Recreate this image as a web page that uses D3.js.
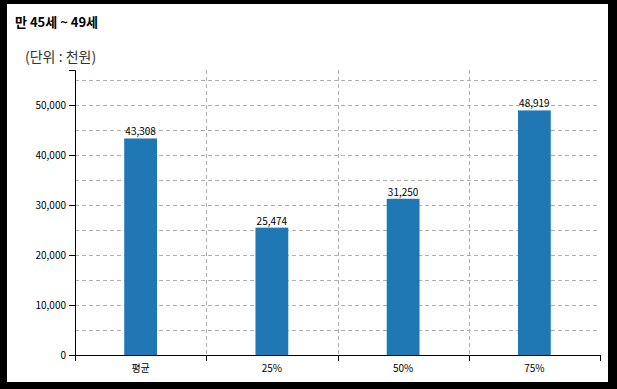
<!DOCTYPE html>
<html>
<head>
<meta charset="utf-8">
<script src="https://cdn.jsdelivr.net/npm/d3@7"></script>
<style>
body { margin: 0; background: #000; }
#box { position: absolute; left: 7px; top: 4px; width: 601px; height: 378px; background: #fff; }
svg { display: block; }
</style>
</head>
<body>
<div id="box"></div>
<script>
var title = "만 45세 ~ 49세";
var unitText = "(단위 : 천원)";
var categories = ["평균", "25%", "50%", "75%"];
var values = [43308, 25474, 31250, 48919];
var yTicks = [0, 10000, 20000, 30000, 40000, 50000];
var gridValues = [5000, 10000, 15000, 20000, 25000, 30000, 35000, 40000, 45000, 50000, 55000];

var svg = d3.select("#box").append("svg").attr("width", 601).attr("height", 378);
var g = svg.append("g").attr("transform", "translate(-7,-4)");

var font = "'Noto Sans CJK KR', 'Noto Sans', sans-serif";

g.append("text").attr("x", 15).attr("y", 27)
  .attr("font-family", font).attr("font-size", 13).attr("font-weight", "bold")
  .attr("fill", "#000").text(title);
g.append("text").attr("x", 25).attr("y", 62)
  .attr("font-family", font).attr("font-size", 14)
  .attr("fill", "#333").text(unitText);

var plotLeft = 75, plotRight = 600, plotTop = 70, plotBottom = 355;

var x = d3.scaleBand().domain(categories).range([plotLeft, plotRight]);
var y = d3.scaleLinear().domain([0, 57000]).range([plotBottom, plotTop]);

// horizontal grid
g.selectAll(".hgrid").data(gridValues).enter().append("line")
  .attr("x1", plotLeft).attr("x2", plotRight)
  .attr("y1", function(d){ return Math.round(y(d)) + 0.5; })
  .attr("y2", function(d){ return Math.round(y(d)) + 0.5; })
  .attr("stroke", "#b0b0b0").attr("stroke-dasharray", "4,3");

// vertical grid at band boundaries
var bounds = categories.slice(1).map(function(c){ return x(c); });
g.selectAll(".vgrid").data(bounds).enter().append("line")
  .attr("x1", function(d){ return Math.round(d) + 0.5; })
  .attr("x2", function(d){ return Math.round(d) + 0.5; })
  .attr("y1", plotTop).attr("y2", plotBottom)
  .attr("stroke", "#b0b0b0").attr("stroke-dasharray", "4,3");

// bars
var bw = x.bandwidth() * 0.25;
g.selectAll(".bar").data(values).enter().append("rect")
  .attr("x", function(d, i){ return x(categories[i]) + x.bandwidth() / 2 - bw / 2; })
  .attr("y", function(d){ return y(d); })
  .attr("width", bw)
  .attr("height", function(d){ return plotBottom - y(d); })
  .attr("fill", "#1f77b4");

g.selectAll(".lbl").data(values).enter().append("text")
  .attr("x", function(d, i){ return x(categories[i]) + x.bandwidth() / 2; })
  .attr("y", function(d){ return y(d) - 3; })
  .attr("text-anchor", "middle")
  .attr("font-family", font).attr("font-size", 10).attr("fill", "#000")
  .text(function(d){ return d3.format(",")(d); });

// y axis
var yAxis = g.append("g").attr("transform", "translate(" + plotLeft + ",0)")
  .call(d3.axisLeft(y).tickValues(yTicks).tickFormat(d3.format(",")).tickSizeOuter(6));
yAxis.selectAll("text").attr("font-family", font).attr("font-size", 10).attr("fill", "#000");
yAxis.selectAll("path, line").attr("stroke", "#000");

// x axis with ticks at band boundaries
var xAxis = g.append("g").attr("transform", "translate(0," + plotBottom + ")");
xAxis.append("line").attr("x1", plotLeft).attr("x2", plotRight).attr("y1", 0.5).attr("y2", 0.5).attr("stroke", "#000");
var edges = [plotLeft].concat(bounds).concat([plotRight]);
xAxis.selectAll(".xt").data(edges).enter().append("line")
  .attr("x1", function(d){ return Math.round(d) + 0.5; })
  .attr("x2", function(d){ return Math.round(d) + 0.5; })
  .attr("y1", 0).attr("y2", 6).attr("stroke", "#000");
xAxis.selectAll(".xl").data(categories).enter().append("text")
  .attr("x", function(d){ return x(d) + x.bandwidth() / 2; })
  .attr("y", 17)
  .attr("text-anchor", "middle")
  .attr("font-family", font).attr("font-size", 10).attr("fill", "#000")
  .text(function(d){ return d; });
</script>
</body>
</html>
